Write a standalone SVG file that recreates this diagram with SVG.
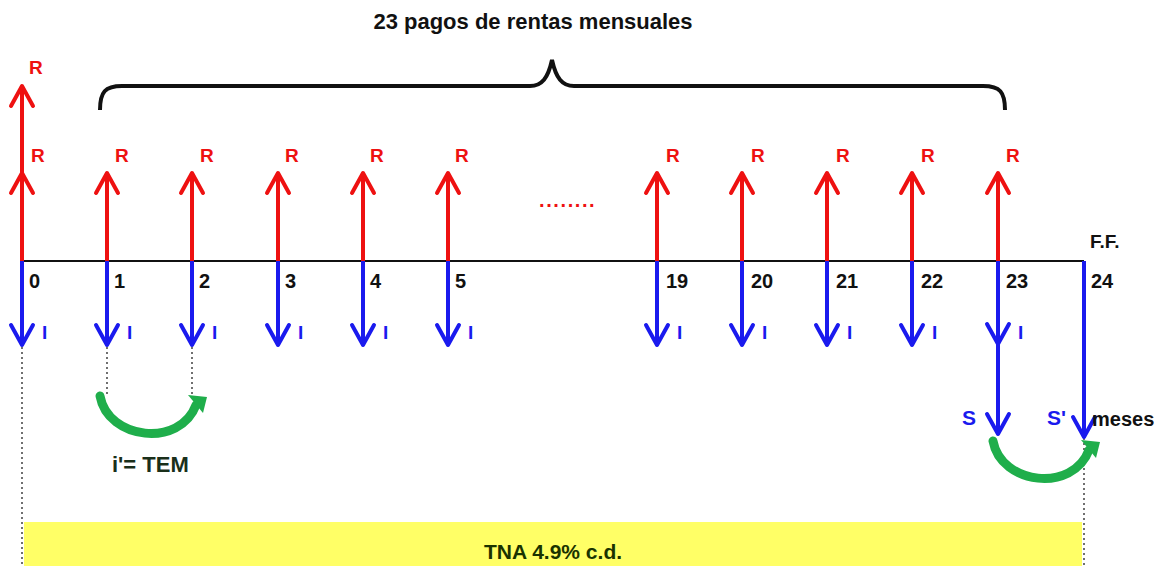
<svg xmlns="http://www.w3.org/2000/svg" width="1167" height="566" viewBox="0 0 1167 566">
<style>
.t{font-family:"Liberation Sans",Arial,sans-serif;font-weight:bold;font-size:19px}
.n{font-size:20px}
.r{fill:#ee1111}
.b{fill:#1a1aee}
.k{fill:#111}
.up{stroke:#ee1111;stroke-width:4;fill:none;marker-end:url(#mr)}
.dn{stroke:#1a1aee;stroke-width:4;fill:none;marker-end:url(#mb)}
.dot{stroke:#111;stroke-width:1.2;stroke-dasharray:2 3;fill:none}
.gr{stroke:#1fae4b;stroke-width:9;fill:none;stroke-linecap:round}
</style>
<defs>
<marker id="mr" markerUnits="userSpaceOnUse" viewBox="-26 -16 30 32" markerWidth="30" markerHeight="32" refX="0" refY="0" orient="auto">
<path d="M-20,-11 L0,0 L-20,11" stroke="#ee1111" stroke-width="4" fill="none" stroke-linecap="round" stroke-linejoin="round"/>
</marker>
<marker id="mb" markerUnits="userSpaceOnUse" viewBox="-26 -16 30 32" markerWidth="30" markerHeight="32" refX="0" refY="0" orient="auto">
<path d="M-20,-11 L0,0 L-20,11" stroke="#1a1aee" stroke-width="4" fill="none" stroke-linecap="round" stroke-linejoin="round"/>
</marker>
</defs>
<rect width="1167" height="566" fill="#fff"/>

<g id="title">
<text class="t k" x="533" y="29" text-anchor="middle" style="font-size:22px">23 pagos de rentas mensuales</text>
<path d="M100,110 C100,92 105,86 122,86 L530,86 C542,86 548,78 552,60 C556,78 562,86 574,86 L983,86 C1000,86 1005,92 1005,110" stroke="#111" stroke-width="4" fill="none"/>
</g>

<g id="band">
<rect x="24" y="522" width="1058" height="44" fill="#ffff66"/>
<text class="t" x="553" y="559" text-anchor="middle" fill="#1a3300" style="font-size:21px">TNA 4.9% c.d.</text>
</g>

<g id="connectors">
<line x1="22" y1="261" x2="1084" y2="261" stroke="#111" stroke-width="2.2"/>
<line class="dot" x1="22" y1="347" x2="22" y2="566"/>
<line class="dot" x1="107" y1="347" x2="107" y2="396"/>
<line class="dot" x1="192" y1="347" x2="192" y2="396"/>
<line class="dot" x1="1084" y1="438" x2="1084" y2="566"/>
<line class="up" x1="22" y1="261" x2="22" y2="173"/>
<line class="up" x1="22" y1="173" x2="22" y2="86"/>
<line class="up" x1="107" y1="261" x2="107" y2="173"/>
<line class="up" x1="192" y1="261" x2="192" y2="173"/>
<line class="up" x1="278" y1="261" x2="278" y2="173"/>
<line class="up" x1="363" y1="261" x2="363" y2="173"/>
<line class="up" x1="448" y1="261" x2="448" y2="173"/>
<line class="up" x1="657" y1="261" x2="657" y2="173"/>
<line class="up" x1="742" y1="261" x2="742" y2="173"/>
<line class="up" x1="827" y1="261" x2="827" y2="173"/>
<line class="up" x1="912" y1="261" x2="912" y2="173"/>
<line class="up" x1="998" y1="261" x2="998" y2="173"/>
<line class="dn" x1="22" y1="261" x2="22" y2="345"/>
<line class="dn" x1="107" y1="261" x2="107" y2="345"/>
<line class="dn" x1="192" y1="261" x2="192" y2="345"/>
<line class="dn" x1="278" y1="261" x2="278" y2="345"/>
<line class="dn" x1="363" y1="261" x2="363" y2="345"/>
<line class="dn" x1="448" y1="261" x2="448" y2="345"/>
<line class="dn" x1="657" y1="261" x2="657" y2="345"/>
<line class="dn" x1="742" y1="261" x2="742" y2="345"/>
<line class="dn" x1="827" y1="261" x2="827" y2="345"/>
<line class="dn" x1="912" y1="261" x2="912" y2="345"/>
<line class="dn" x1="998" y1="261" x2="998" y2="344"/>
<line class="dn" x1="998" y1="344" x2="998" y2="434"/>
<line class="dn" x1="1084" y1="261" x2="1084" y2="437"/>
<path class="gr" d="M100,396 C108,440 180,448 196,405"/>
<polygon points="207,397 203,413 188,395" fill="#1fae4b"/>
<path class="gr" d="M993,441 C1001,485 1073,493 1089,450"/>
<polygon points="1100,442 1096,458 1081,440" fill="#1fae4b"/>
</g>

<g id="labels-R">
<text class="t r" x="29" y="74">R</text>
<text class="t r" x="31" y="162">R</text>
<text class="t r" x="115" y="162">R</text>
<text class="t r" x="200" y="162">R</text>
<text class="t r" x="285" y="162">R</text>
<text class="t r" x="370" y="162">R</text>
<text class="t r" x="455" y="162">R</text>
<text class="t r" x="666" y="162">R</text>
<text class="t r" x="751" y="162">R</text>
<text class="t r" x="836" y="162">R</text>
<text class="t r" x="921" y="162">R</text>
<text class="t r" x="1006" y="162">R</text>
<text class="t r" x="539" y="207" style="font-size:20px;letter-spacing:1.6px">........</text>
</g>

<g id="labels-num">
<text class="t n k" x="29" y="288">0</text>
<text class="t n k" x="114" y="288">1</text>
<text class="t n k" x="199" y="288">2</text>
<text class="t n k" x="285" y="288">3</text>
<text class="t n k" x="370" y="288">4</text>
<text class="t n k" x="455" y="288">5</text>
<text class="t n k" x="666" y="288">19</text>
<text class="t n k" x="751" y="288">20</text>
<text class="t n k" x="836" y="288">21</text>
<text class="t n k" x="921" y="288">22</text>
<text class="t n k" x="1006" y="288">23</text>
<text class="t n k" x="1091" y="288">24</text>
<text class="t k" x="1090" y="248">F.F.</text>
</g>

<g id="labels-I">
<text class="t b" x="42" y="339">I</text>
<text class="t b" x="127" y="339">I</text>
<text class="t b" x="212" y="339">I</text>
<text class="t b" x="298" y="339">I</text>
<text class="t b" x="383" y="339">I</text>
<text class="t b" x="468" y="339">I</text>
<text class="t b" x="677" y="339">I</text>
<text class="t b" x="762" y="339">I</text>
<text class="t b" x="847" y="339">I</text>
<text class="t b" x="932" y="339">I</text>
<text class="t b" x="1018" y="339">I</text>
</g>

<g id="labels-other">
<text class="t b" x="962" y="425" style="font-size:21px">S</text>
<text class="t b" x="1047" y="425" style="font-size:21px">S'</text>
<text class="t k" x="1092" y="426" style="font-size:20px">meses</text>
<text class="t" x="112" y="472" fill="#1a2f1a" style="font-size:22px">i'= TEM</text>
</g>
</svg>
